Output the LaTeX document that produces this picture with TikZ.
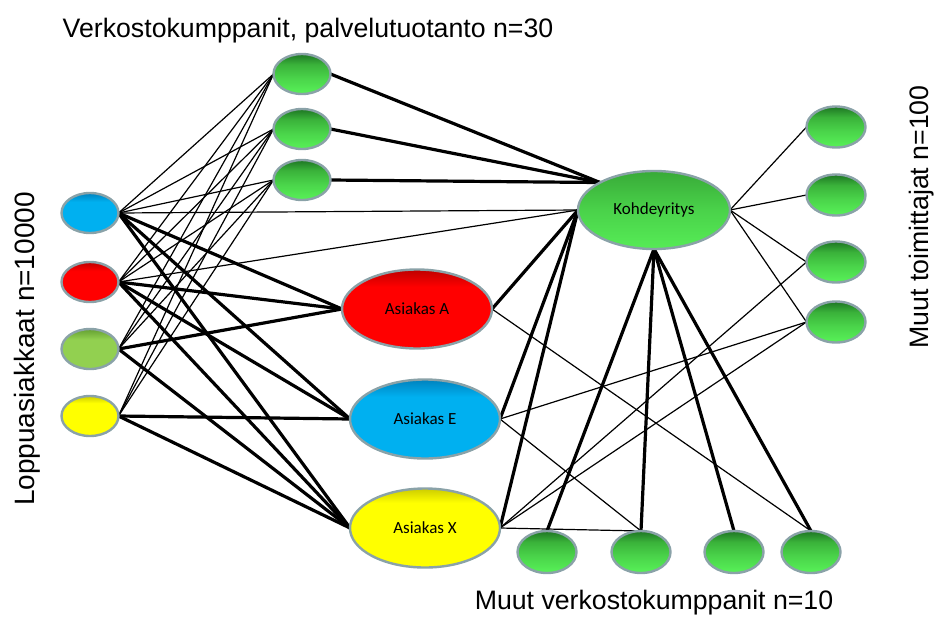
\documentclass[tikz,border=0pt]{standalone}
\usepackage{fontspec}
\setmainfont{Liberation Sans}
\newfontfamily\carl{Carlito}
\usetikzlibrary{shapes.geometric,backgrounds}
\definecolor{bordc}{RGB}{138,162,168}
\definecolor{gtop}{RGB}{30,118,36}
\definecolor{gup}{RGB}{58,178,58}
\definecolor{gmid}{RGB}{74,212,74}
\definecolor{gbot}{RGB}{88,242,88}
\definecolor{ktop}{RGB}{56,170,56}
\definecolor{kmid}{RGB}{74,210,74}
\definecolor{kbot}{RGB}{86,236,86}
\definecolor{cblue}{RGB}{0,176,240}
\definecolor{cbluet}{RGB}{0,130,190}
\definecolor{cred}{RGB}{255,0,0}
\definecolor{credt}{RGB}{190,0,0}
\definecolor{colive}{RGB}{146,208,80}
\definecolor{colivet}{RGB}{100,160,50}
\definecolor{cyel}{RGB}{255,255,0}
\definecolor{cyelt}{RGB}{205,205,0}
\pgfdeclareverticalshading{shgreen}{100bp}{color(0bp)=(gbot); color(25bp)=(gbot); color(45bp)=(gmid); color(62bp)=(gup); color(75bp)=(gtop); color(100bp)=(gtop)}
\pgfdeclareverticalshading{shk}{100bp}{color(0bp)=(kbot); color(25bp)=(kbot); color(50bp)=(kmid); color(75bp)=(ktop); color(100bp)=(ktop)}
\pgfdeclareverticalshading{shblue}{100bp}{color(0bp)=(cblue); color(64bp)=(cblue); color(75bp)=(cbluet); color(100bp)=(cbluet)}
\pgfdeclareverticalshading{shred}{100bp}{color(0bp)=(cred); color(64bp)=(cred); color(75bp)=(credt); color(100bp)=(credt)}
\pgfdeclareverticalshading{sholive}{100bp}{color(0bp)=(colive); color(62bp)=(colive); color(75bp)=(colivet); color(100bp)=(colivet)}
\pgfdeclareverticalshading{shyel}{100bp}{color(0bp)=(cyel); color(66bp)=(cyel); color(75bp)=(cyelt); color(100bp)=(cyelt)}
\begin{document}
\begin{tikzpicture}[x=1pt,y=-1pt,
  nd/.style={ellipse, inner sep=0pt, outer sep=0pt, draw=bordc, line width=2.4pt},
  sm/.style={nd, minimum width=57pt, minimum height=40pt},
  big/.style={nd, minimum width=150pt, minimum height=79pt, font=\carl\fontsize{17}{20}\selectfont},
  grn/.style={shade, shading=shgreen},
  kgrn/.style={shade, shading=shk},
  colr/.style={shade, shading=#1},
  thinl/.style={line width=1.2pt, black},
  thickl/.style={line width=3.2pt, black},
  lbl/.style={font=\fontsize{26.7}{30}\selectfont, inner sep=0pt, anchor=base}
]
\useasboundingbox (0,0) rectangle (934,616);

% top partners
\node[sm, grn] (T1) at (302,74) {};
\node[sm, grn] (T2) at (302,129) {};
\node[sm, grn] (T3) at (302,180) {};
% end customers
\node[sm, colr=shblue] (L1) at (90,213) {};
\node[sm, colr=shred] (L2) at (90,282) {};
\node[sm, colr=sholive] (L3) at (90,349) {};
\node[sm, colr=shyel] (L4) at (90,416) {};
% customers
\node[big, colr=shred] (A) at (417,309) {Asiakas A};
\node[big, colr=shblue] (E) at (425,419) {Asiakas E};
\node[big, colr=shyel] (X) at (425,528) {Asiakas X};
% target company
\node[big, kgrn, minimum width=152pt, minimum height=78pt] (K) at (654,210) {Kohdeyritys};
% bottom partners
\node[sm, grn, minimum width=59pt, minimum height=42pt] (B1) at (547,552) {};
\node[sm, grn, minimum width=59pt, minimum height=42pt] (B2) at (641,552) {};
\node[sm, grn, minimum width=59pt, minimum height=42pt] (B3) at (734,552) {};
\node[sm, grn, minimum width=59pt, minimum height=42pt] (B4) at (811,552) {};
% right suppliers
\node[sm, grn, minimum width=59pt, minimum height=41pt] (R1) at (836,127) {};
\node[sm, grn, minimum width=59pt, minimum height=41pt] (R2) at (836,195) {};
\node[sm, grn, minimum width=59pt, minimum height=41pt] (R3) at (836,262) {};
\node[sm, grn, minimum width=59pt, minimum height=41pt] (R4) at (836,322) {};

% labels
\node[lbl] (h1) at (308,37) {Verkostokumppanit, palvelutuotanto n=30};
\node[lbl] (h2) at (654,609) {Muut verkostokumppanit n=10};
\node[lbl, rotate=90, font=\fontsize{28}{30}\selectfont] (h3) at (34,349) {Loppuasiakkaat n=10000};
\node[lbl, rotate=90] (h4) at (928,217) {Muut toimittajat n=100};

\begin{scope}[on background layer]
  \foreach \l in {L1,L2,L3,L4}
    \foreach \t in {T1,T2,T3}
      \draw[thinl] (\l.east) -- (\t.west);
  \draw[thinl] (L1.east) -- (K.west);
  \draw[thinl] (L2.east) -- (K.west);
  \foreach \t in {T1,T2,T3}
    \draw[thickl] (\t.east) -- (K.153);
  \foreach \a/\b in {L1/A,L1/E,L1/X,L2/A,L2/E,L2/X,L3/A,L3/X,L4/E,L4/X}
    \draw[thickl] (\a.east) -- (\b.west);
  \foreach \a in {A,E,X}
    \draw[thickl] (\a.east) -- (K.west);
  \foreach \b in {B1,B2,B3,B4}
    \draw[thickl] (K.south) -- (\b.north);
  \foreach \r in {R1,R2,R3,R4}
    \draw[thinl] (K.east) -- (\r.west);
  \draw[thinl] (A.east) -- (B4.north);
  \draw[thinl] (E.east) -- (B2.north);
  \draw[thinl] (E.east) -- (R4.west);
  \draw[thinl] (X.east) -- (R3.west);
  \draw[thinl] (X.east) -- (R4.west);
  \draw[thinl] (X.east) -- (B2.north);
\end{scope}
\end{tikzpicture}
\end{document}
